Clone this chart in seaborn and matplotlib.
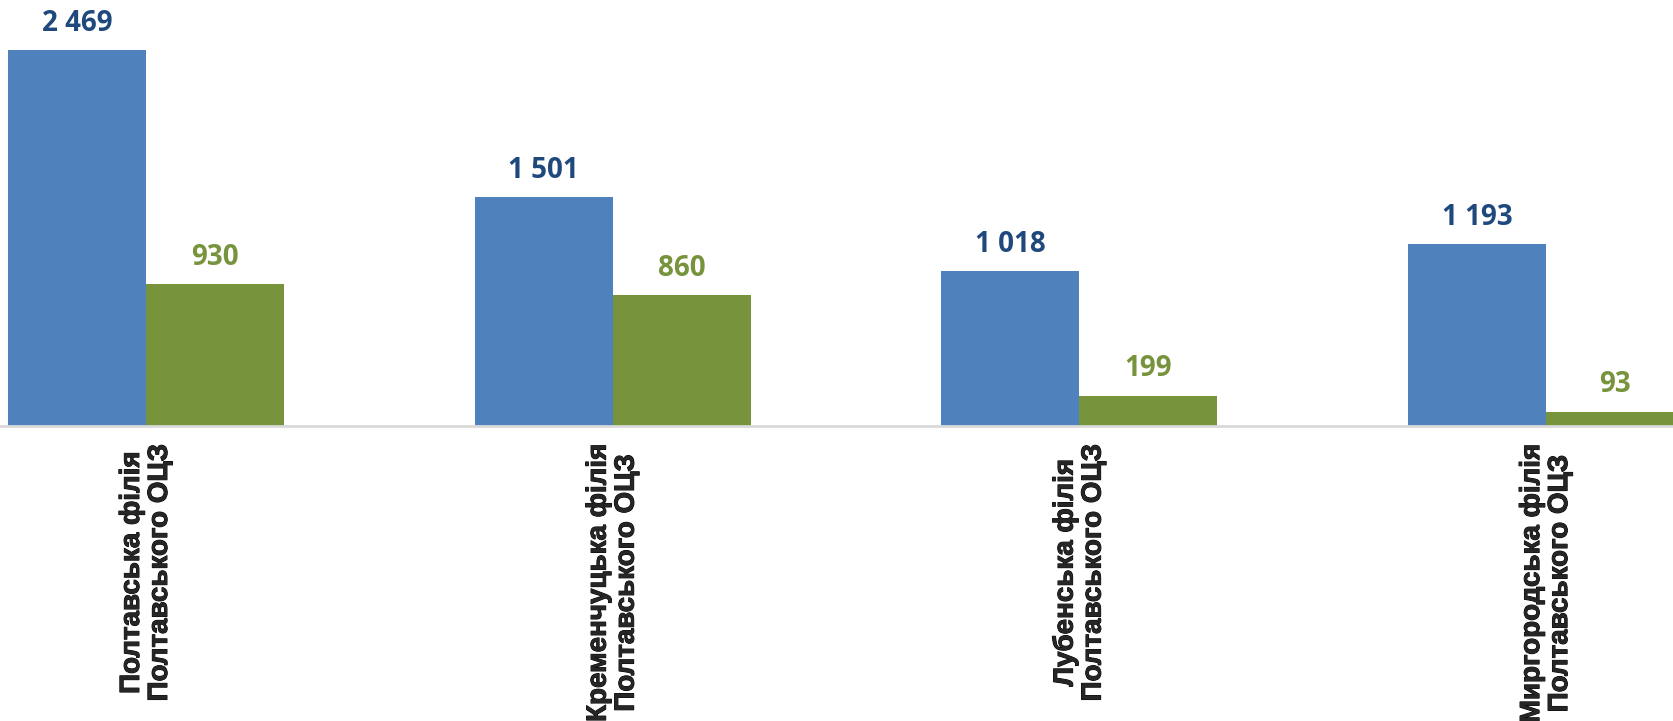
import pandas as pd
import matplotlib.pyplot as plt
from matplotlib import font_manager as fm
import matplotlib.patheffects as pe
import seaborn as sns

# Data
branches = [
    "Полтавська філія\nПолтавського ОЦЗ",
    "Кременчуцька філія\nПолтавського ОЦЗ",
    "Лубенська філія\nПолтавського ОЦЗ",
    "Миргородська філія\nПолтавського ОЦЗ",
]
series_names = ["Показник 1", "Показник 2"]
values_blue = [2469, 1501, 1018, 1193]
values_green = [930, 860, 199, 93]

bar_colors = ["#4F81BD", "#77933C"]
label_colors = ["#1F497D", "#77933C"]

df = pd.DataFrame({
    "branch": branches * 2,
    "series": [series_names[0]] * len(branches) + [series_names[1]] * len(branches),
    "value": values_blue + values_green,
})

sns.set_style("white")

fig = plt.figure(figsize=(16.74, 7.21), dpi=100)
ax = fig.add_axes([0, 0.409, 1, 0.591])

sns.barplot(data=df, x="branch", y="value", hue="series",
            palette=bar_colors, width=0.5914, ax=ax, legend=False,
            edgecolor="none", saturation=1)

# Value labels above bars
num_font = fm.FontProperties(family=["Open Sans", "DejaVu Sans"], weight="bold", size=20)
for container, col in zip(ax.containers, label_colors):
    for patch in container:
        v = patch.get_height()
        ax.annotate(f"{int(round(v)):,}".replace(",", " "),
                    (patch.get_x() + patch.get_width() / 2, v),
                    xytext=(0, 14), textcoords="offset points",
                    ha="center", va="baseline", fontproperties=num_font,
                    color=col, annotation_clip=False)

ax.set_xlim(-0.3128, 3.274)
ax.set_ylim(0, 2797)

tick_font = fm.FontProperties(family=["Liberation Sans", "DejaVu Sans"], weight="bold", size=20)
ax.set_xticks(range(len(branches)))
ax.set_xticklabels(branches, rotation=90, linespacing=1.1, multialignment="center")
for t in ax.get_xticklabels():
    t.set_fontproperties(tick_font)
    # slightly heavier strokes, like the original rendering
    t.set_path_effects([pe.withStroke(linewidth=0.7, foreground="black")])
ax.tick_params(axis="x", length=0, pad=13)
ax.set_xlabel("")
ax.set_ylabel("")
ax.set_yticks([])

for side in ["top", "left", "right"]:
    ax.spines[side].set_visible(False)
ax.spines["bottom"].set_color("#D9D9D9")
ax.spines["bottom"].set_linewidth(2)

fig.savefig("out.png", dpi=100, facecolor="white")
